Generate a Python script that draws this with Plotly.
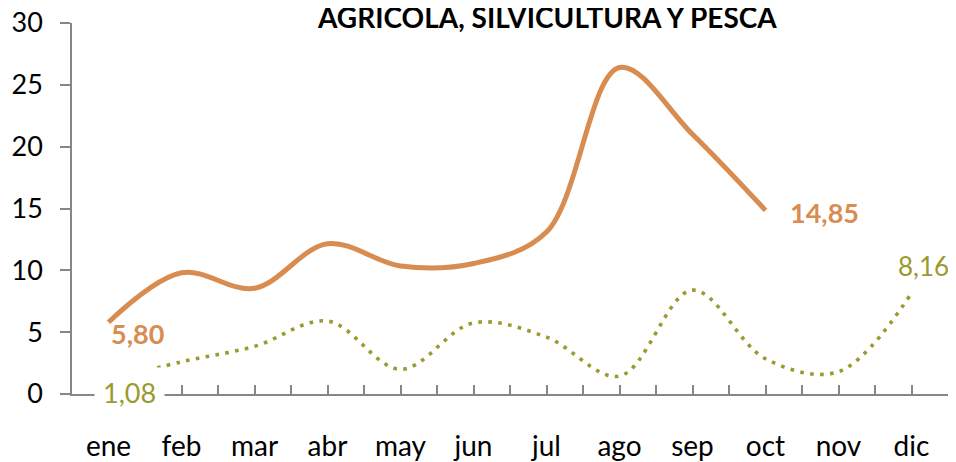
import plotly.graph_objects as go

categories = ["ene", "feb", "mar", "abr", "may", "jun", "jul", "ago", "sep", "oct", "nov", "dic"]
serie_2014 = [5.80, 9.8, 8.55, 12.15, 10.35, 10.55, 13.1, 26.4, 21.0, 14.85]
serie_2013 = [1.08, 2.6, 3.85, 5.9, 2.0, 5.75, 4.6, 1.45, 8.4, 2.85, 1.8, 8.16]
title_text = "AGRICOLA, SILVICULTURA Y PESCA"
y_ticks = [0, 5, 10, 15, 20, 25, 30]

ORANGE = "#D98C50"
GREEN = "#9B9A2F"
AXIS = "#868686"
FONT = "Lato"

def fmt(v):
    return f"{v:.2f}".replace(".", ",")

x1 = list(range(len(serie_2014)))
x2 = list(range(len(serie_2013)))

fig = go.Figure()
fig.add_trace(go.Scatter(x=x2, y=serie_2013, mode="lines",
                         line=dict(color=GREEN, width=3.6, dash="3.6px,6.4px", shape="spline", smoothing=1),
                         hoverinfo="skip"))
fig.add_trace(go.Scatter(x=x1, y=serie_2014, mode="lines",
                         line=dict(color=ORANGE, width=5, shape="spline", smoothing=1),
                         hoverinfo="skip"))

annotations = [
    dict(x=x1[0], y=serie_2014[0], text="<b>" + fmt(serie_2014[0]) + "</b>", showarrow=False,
         xshift=29, yshift=-11, font=dict(color=ORANGE, size=27, family=FONT)),
    dict(x=x1[-1], y=serie_2014[-1], text="<b>" + fmt(serie_2014[-1]) + "</b>", showarrow=False,
         xshift=59, yshift=-2, font=dict(color=ORANGE, size=27, family=FONT)),
    dict(x=x2[0], y=serie_2013[0], text=fmt(serie_2013[0]), showarrow=False,
         xshift=21, yshift=-12, bgcolor="white", borderpad=8,
         font=dict(color=GREEN, size=27, family=FONT)),
    dict(x=x2[-1], y=serie_2013[-1], text=fmt(serie_2013[-1]), showarrow=False,
         xshift=12, yshift=27, font=dict(color=GREEN, size=26, family=FONT)),
    dict(xref="paper", yref="paper", x=0.5422, y=1, yanchor="bottom", yshift=-13,
         text="<b>" + title_text + "</b>", showarrow=False,
         font=dict(color="black", size=28, family=FONT)),
]

fig.update_layout(
    width=948, height=454,
    margin=dict(l=64, r=8, t=15, b=68, autoexpand=False),
    paper_bgcolor="white", plot_bgcolor="white",
    showlegend=False,
    font=dict(family=FONT, color="black", size=26),
    annotations=annotations,
    xaxis=dict(range=[-0.5, 11.5], tickvals=list(range(len(categories))), ticktext=categories,
               automargin=False, ticklabeloverflow="allow",
               showgrid=False, zeroline=False, showline=True, linecolor=AXIS, linewidth=1.5,
               ticks="inside", ticklen=9, tickcolor=AXIS, tickwidth=1.5,
               ticklabelstandoff=27, tickfont=dict(size=28, family=FONT),
               minor=dict(tick0=-0.5, dtick=1, ticks="inside", ticklen=9, tickcolor=AXIS, tickwidth=1.5)),
    yaxis=dict(range=[0, 30], tickvals=y_ticks, showgrid=False, zeroline=False,
               automargin=False, ticklabeloverflow="allow",
               showline=True, linecolor=AXIS, linewidth=1.5,
               ticks="outside", ticklen=10, tickcolor=AXIS, tickwidth=1.5,
               ticklabelstandoff=12, tickfont=dict(size=27, family=FONT)),
)

fig.write_html("out.html")
